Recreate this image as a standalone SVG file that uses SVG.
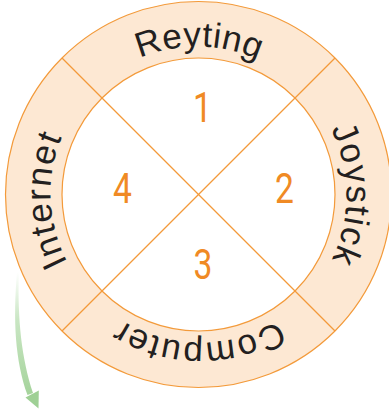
<svg xmlns="http://www.w3.org/2000/svg" width="389" height="411" viewBox="0 0 389 411">
  <style>
    .ring { fill: #FDE8D3; fill-rule: evenodd; stroke: none; }
    .edge { fill: none; stroke: #F39A3A; stroke-width: 1.2; }
    .divider { stroke: #F39A3A; stroke-width: 1.2; fill: none; }
    .label { font-family: "Liberation Sans", Arial, sans-serif; font-size: 35px; fill: #231F20; letter-spacing: 1.5px; }
    .num { font-family: Roboto, "Liberation Sans", sans-serif; font-size: 42px; fill: #F08A24; text-anchor: middle; }
  </style>
  <defs>
    <path id="textCircle" d="M94.56,298.44 A147,147 0 1,1 302.44,90.56 A147,147 0 1,1 94.56,298.44"/>
    <linearGradient id="arrowGrad" x1="0" y1="272" x2="0" y2="408" gradientUnits="userSpaceOnUse">
      <stop offset="0" stop-color="#FFFFFF"/>
      <stop offset="0.35" stop-color="#C9E6C3"/>
      <stop offset="1" stop-color="#9FD095"/>
    </linearGradient>
  </defs>

  <g id="ring">
    <path class="ring" d="M5.5,194.5 A193,193 0 1,0 391.5,194.5 A193,193 0 1,0 5.5,194.5 Z M62,194.5 A136.5,136.5 0 1,0 335,194.5 A136.5,136.5 0 1,0 62,194.5 Z"/>
    <circle class="edge" cx="198.5" cy="194.5" r="193"/>
    <circle class="edge" cx="198.5" cy="194.5" r="136.5"/>
  </g>

  <g id="connectors">
    <line class="divider" x1="62" y1="58" x2="335" y2="331"/>
    <line class="divider" x1="335" y1="58" x2="62" y2="331"/>
  </g>

  <g id="node-reyting">
    <text class="label" style="letter-spacing:0.5px"><textPath href="#textCircle" startOffset="37.6%" text-anchor="middle">Reyting</textPath></text>
  </g>
  <g id="node-joystick">
    <text class="label"><textPath href="#textCircle" startOffset="62.5%" text-anchor="middle">Joystick</textPath></text>
  </g>
  <g id="node-computer">
    <text class="label"><textPath href="#textCircle" startOffset="87.5%" text-anchor="middle">Computer</textPath></text>
  </g>
  <g id="node-internet">
    <text class="label"><textPath href="#textCircle" startOffset="11.9%" text-anchor="middle">Internet</textPath></text>
  </g>

  <g id="node-1"><text class="num" transform="translate(202.5,122) scale(0.8,1)">1</text></g>
  <g id="node-2"><text class="num" transform="translate(284.5,203) scale(0.8,1)">2</text></g>
  <g id="node-3"><text class="num" transform="translate(203,279) scale(0.8,1)">3</text></g>
  <g id="node-4"><text class="num" transform="translate(122.5,203) scale(0.8,1)">4</text></g>

  <g id="arrow">
    <path d="M17,272 C13,320 15,360 27.5,395 L33,393 C21.5,358 17.5,320 18.8,272 Z" fill="url(#arrowGrad)"/>
    <polygon points="25.5,397.5 38.8,390.5 38.5,408.5" fill="#9FD095"/>
  </g>
</svg>
